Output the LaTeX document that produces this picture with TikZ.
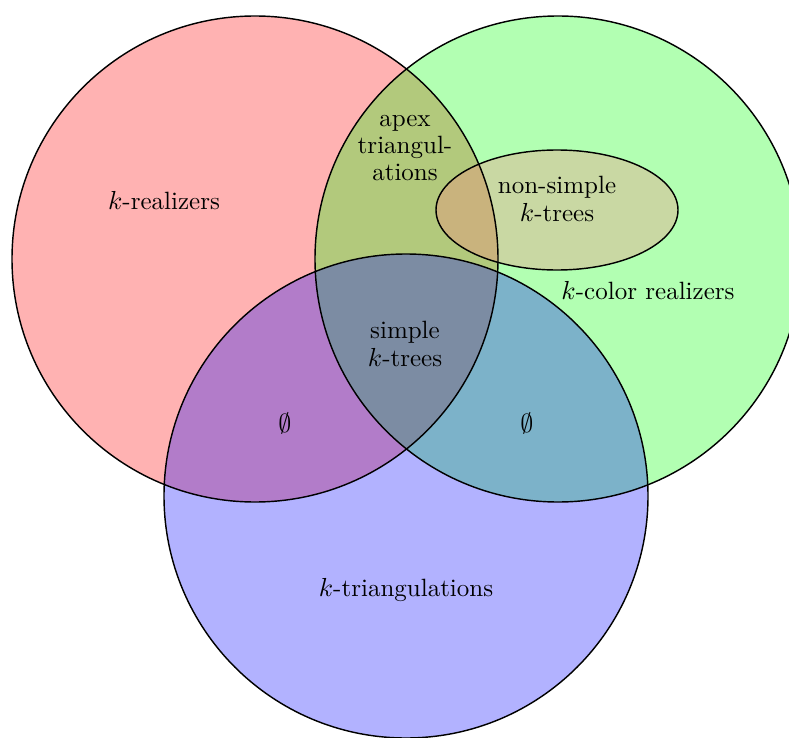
\documentclass[tikz,border=0pt]{standalone}
\begin{document}
\begin{tikzpicture}[x=0.42pt,y=-0.42pt,
  setc/.style={fill opacity=0.3},
  outl/.style={draw=black,line width=0.6pt},
  lbl/.style={align=center,inner sep=0pt,font=\fontsize{10.5}{11.5}\selectfont}]
\useasboundingbox (0,0) rectangle (789,738);
\begin{scope}
\clip (0,0) rectangle (789,738);
\path[setc,fill=red] (255,259) circle[radius=243];
\path[setc,fill=green] (558,259) circle[radius=243];
\path[setc,fill=blue] (406,496) circle[radius=242];
\path[setc,fill=red!50] (557,210) ellipse[x radius=121,y radius=60];
\draw[outl] (255,259) circle[radius=243];
\draw[outl] (558,259) circle[radius=243];
\draw[outl] (406,496) circle[radius=242];
\draw[outl] (557,210) ellipse[x radius=121,y radius=60];
\end{scope}
\node[lbl] (kr) at (164,201) {$k$-realizers};
\node[lbl] (apex) at (405,148) {apex\\triangul-\\ations};
\node[lbl] (ns) at (557,199) {non-simple\\$k$-trees};
\node[lbl] (kc) at (648,291) {$k$-color realizers};
\node[lbl] (sk) at (405,344) {simple\\$k$-trees};
\node[lbl] (e1) at (285,423) {$\emptyset$};
\node[lbl] (e2) at (527,423) {$\emptyset$};
\node[lbl] (kt) at (406,590) {$k$-triangulations};
\end{tikzpicture}
\end{document}
